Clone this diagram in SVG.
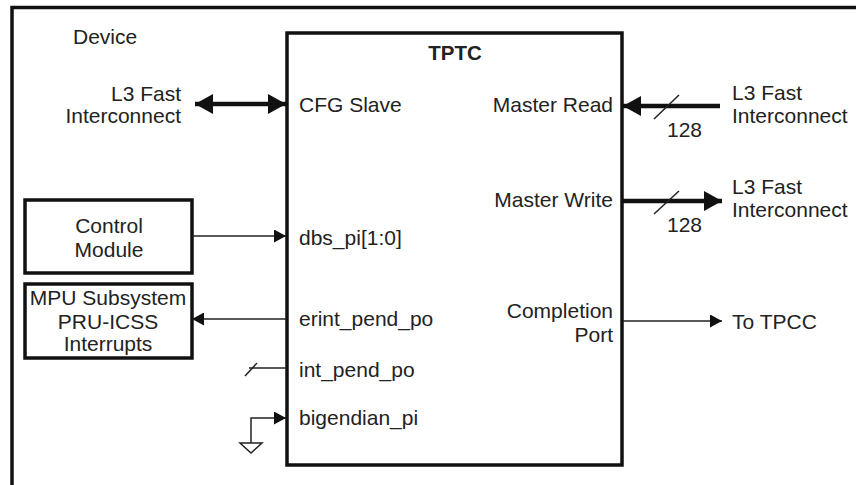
<svg xmlns="http://www.w3.org/2000/svg" width="856" height="485" viewBox="0 0 856 485">
<defs>
<style>
text{font-family:"Liberation Sans",Arial,sans-serif;font-size:21px;fill:#222}
.b{font-weight:bold;font-size:20.5px}
.e{text-anchor:end}
.m{text-anchor:middle}
.box{fill:#fff;stroke:#111;stroke-width:3.5}
.thin{stroke:#222;stroke-width:1.5;fill:none}
.thick{stroke:#111;stroke-width:4.5;fill:none}
</style>
<marker id="ahs" markerWidth="12" markerHeight="13" refX="12" refY="6.5" orient="auto-start-reverse" markerUnits="userSpaceOnUse" viewBox="0 0 12 13">
<path d="M0,0 L12,6.5 L0,13 z" fill="#111"/>
</marker>
<marker id="ahb" markerWidth="18" markerHeight="20" refX="18" refY="10" orient="auto-start-reverse" markerUnits="userSpaceOnUse" viewBox="0 0 18 20">
<path d="M0,0 L18,10 L0,20 z" fill="#111"/>
</marker>
</defs>
<rect width="856" height="485" fill="#fff"/>
<g id="device">
<path d="M12,487 L12,7.5 L858,7.5" fill="none" stroke="#111" stroke-width="3.5"/>
<text x="73" y="44">Device</text>
</g>
<g id="tptc">
<rect class="box" x="287" y="33" width="335" height="432"/>
<text class="b m" x="455" y="60">TPTC</text>
<text x="299" y="112">CFG Slave</text>
<text x="299" y="245">dbs_pi[1:0]</text>
<text x="299" y="326">erint_pend_po</text>
<text x="299" y="377">int_pend_po</text>
<text x="299" y="425">bigendian_pi</text>
<text class="e" x="613" y="112">Master Read</text>
<text class="e" x="613" y="207">Master Write</text>
<text class="e" x="613" y="318">Completion</text>
<text class="e" x="613" y="342">Port</text>
</g>
<g id="control-module">
<rect class="box" x="25" y="200" width="167" height="73"/>
<text class="m" x="109" y="233">Control</text>
<text class="m" x="109" y="257">Module</text>
</g>
<g id="mpu">
<rect class="box" x="25" y="284" width="167" height="74"/>
<text class="m" x="108" y="305">MPU Subsystem</text>
<text class="m" x="108" y="329">PRU-ICSS</text>
<text class="m" x="108" y="351">Interrupts</text>
</g>
<g id="l3-left">
<text class="e" x="181" y="101">L3 Fast</text>
<text class="e" x="181" y="123">Interconnect</text>
</g>
<g id="l3-read">
<text x="732" y="100">L3 Fast</text>
<text x="732" y="123">Interconnect</text>
</g>
<g id="l3-write">
<text x="732" y="194">L3 Fast</text>
<text x="732" y="217">Interconnect</text>
</g>
<g id="tpcc">
<text x="732" y="329">To TPCC</text>
</g>
<g id="ground">
<path class="thin" d="M240,443 L262,443 L251,453 Z"/>
</g>
<g id="connectors">
<line class="thick" x1="195" y1="104" x2="286" y2="104" marker-start="url(#ahb)" marker-end="url(#ahb)"/>
<line class="thin" x1="192" y1="236" x2="286" y2="236" marker-end="url(#ahs)"/>
<line class="thin" x1="286" y1="319" x2="192" y2="319" marker-end="url(#ahs)"/>
<line class="thin" x1="286" y1="368" x2="249" y2="368"/>
<line class="thin" x1="245" y1="376" x2="257" y2="363"/>
<polyline class="thin" points="251,443 251,418 286,418" marker-end="url(#ahs)"/>
<line class="thick" x1="720" y1="106" x2="623" y2="106" marker-end="url(#ahb)"/>
<line class="thin" x1="654" y1="119" x2="679" y2="95"/>
<text x="667" y="137">128</text>
<line class="thick" x1="623" y1="201" x2="722" y2="201" marker-end="url(#ahb)"/>
<line class="thin" x1="654" y1="214" x2="679" y2="191"/>
<text x="667" y="232">128</text>
<line class="thin" x1="623" y1="321" x2="722" y2="321" marker-end="url(#ahs)"/>
</g>
</svg>
